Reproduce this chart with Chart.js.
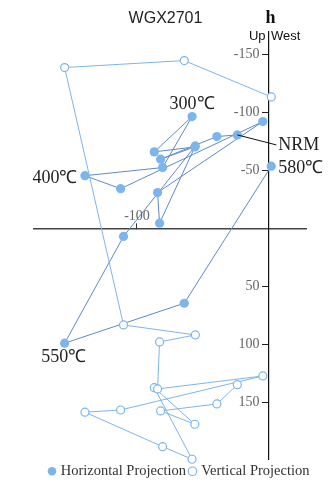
<!DOCTYPE html>
<html>
<head>
<meta charset="utf-8">
<title>WGX2701</title>
<script src="https://cdn.jsdelivr.net/npm/chart.js"></script>
<style>
  html, body { margin: 0; padding: 0; background: #fff; }
  #c { display: block; }
</style>
</head>
<body>
<canvas id="c" width="331" height="482"></canvas>
<script>
// Demagnetization steps (orthogonal projection, units of the plot axes)
const stepLabels = ['NRM', '', '', '', '', '300℃', '', '400℃', '', '', '', '', '', '', '550℃', '', '580℃'];
// shared horizontal coordinate of each step
const xValues = [-24.0, -39.5, -82.1, -56.2, -86.9, -58.3, -80.6, -139.4, -112.4, -4.7, -84.4, -82.9, -55.8, -110.2, -154.8, -64.2, 1.7];
// horizontal-plane component
const horizontalValues = [-80.4, -79.0, -59.5, -70.1, -65.8, -96.2, -52.3, -45.3, -34.1, -91.9, -30.8, -4.4, -70.9, 7.0, 98.9, 64.5, -53.5];
// vertical-plane component
const verticalValues = [134.6, 151.2, 157.2, 168.7, 137.2, 198.8, 188.0, 158.3, 156.4, 127.1, 138.3, 97.8, 91.8, 83.2, -138.4, -144.4, -113.1];

const xTickValues = [-100];
const yTickValues = [-150, -100, -50, 50, 100, 150];
const xRange = [-178, 28];
const yRange = [-169, 198.6];

const chartTitle = 'WGX2701';

// where each temperature label sits relative to its point
const labelPlacement = {
  'NRM':  { dx: 41, dy: 15.5, align: 'left', leader: [39, 10] },
  '300℃': { dx: 0, dy: -7.5, align: 'center' },
  '400℃': { dx: -7.5, dy: 7.5, align: 'right' },
  '550℃': { dx: -1, dy: 18.5, align: 'center' },
  '580℃': { dx: 7, dy: 6.5, align: 'left' }
};

const SERIF = '"Liberation Serif", "Times New Roman", Times, serif';
const SANS = '"Liberation Sans", Arial, Helvetica, sans-serif';

const horizontalPoints = xValues.map((x, i) => ({ x, y: horizontalValues[i] }));
const verticalPoints = xValues.map((x, i) => ({ x, y: verticalValues[i] }));

const decorations = {
  id: 'decorations',
  afterDatasetsDraw(chart) {
    const ctx = chart.ctx;
    const xs = chart.scales.x, ys = chart.scales.y;
    const axisX = xs.getPixelForValue(0);
    const axisY = ys.getPixelForValue(0);
    ctx.save();

    // title
    ctx.fillStyle = '#222';
    ctx.font = '16px ' + SANS;
    ctx.textAlign = 'center';
    ctx.textBaseline = 'alphabetic';
    ctx.fillText(chartTitle, chart.width / 2, 23.3);

    // axis tick labels
    ctx.font = '14px ' + SERIF;
    ctx.fillStyle = '#666';
    ctx.textAlign = 'right';
    ctx.textBaseline = 'middle';
    ys.ticks.forEach(t => ctx.fillText(String(t.value), axisX - 9.5, ys.getPixelForValue(t.value)));
    ctx.textAlign = 'center';
    ctx.textBaseline = 'alphabetic';
    xs.ticks.forEach(t => ctx.fillText(String(t.value), xs.getPixelForValue(t.value), axisY - 8.5));

    // axis captions at the top of the vertical axis
    ctx.fillStyle = '#111';
    ctx.font = 'bold 18px ' + SERIF;
    ctx.textAlign = 'center';
    ctx.fillText('h', axisX + 1.5, 23);
    ctx.font = '13px ' + SANS;
    ctx.textAlign = 'right';
    ctx.fillText('Up', axisX - 3.5, 40);
    ctx.textAlign = 'left';
    ctx.fillText('West', axisX + 2, 40);

    // step labels next to the horizontal-projection points
    ctx.font = '18px ' + SERIF;
    ctx.fillStyle = '#222';
    stepLabels.forEach((label, i) => {
      const place = labelPlacement[label];
      if (!label || !place) return;
      const px = xs.getPixelForValue(xValues[i]);
      const py = ys.getPixelForValue(horizontalValues[i]);
      if (place.leader) {
        ctx.beginPath();
        ctx.strokeStyle = '#111';
        ctx.lineWidth = 1;
        ctx.moveTo(px, py);
        ctx.lineTo(px + place.leader[0], py + place.leader[1]);
        ctx.stroke();
      }
      ctx.textAlign = place.align;
      ctx.textBaseline = 'alphabetic';
      ctx.fillText(label, px + place.dx, py + place.dy);
    });
    ctx.restore();
  }
};

new Chart(document.getElementById('c'), {
  type: 'scatter',
  data: {
    datasets: [
      {
        label: 'Horizontal Projection',
        data: horizontalPoints,
        showLine: true,
        borderColor: '#6189c4',
        borderWidth: 1,
        pointRadius: 4.6,
        pointBorderWidth: 0,
        pointBackgroundColor: '#7cb5ec',
        pointBorderColor: '#7cb5ec',
        order: 2,
        clip: false
      },
      {
        label: 'Vertical Projection',
        data: verticalPoints,
        showLine: true,
        borderColor: '#7cb5ec',
        borderWidth: 1,
        pointRadius: 4,
        pointBorderWidth: 1.2,
        pointBackgroundColor: '#ffffff',
        pointBorderColor: '#7cb5ec',
        order: 1,
        clip: false
      }
    ]
  },
  options: {
    responsive: false,
    animation: false,
    devicePixelRatio: 1,
    layout: { padding: { left: 34, right: 5, top: 32, bottom: 0 } },
    plugins: {
      title: { display: false },
      legend: {
        position: 'bottom',
        maxHeight: 23,
        labels: {
          usePointStyle: true,
          pointStyle: 'circle',
          boxWidth: 3,
          boxHeight: 6,
          padding: 5,
          color: '#333',
          font: { family: SERIF, size: 14.5 },
          sort: (a, b) => a.datasetIndex - b.datasetIndex
        }
      },
      tooltip: { enabled: false }
    },
    scales: {
      x: {
        type: 'linear',
        position: { y: 0 },
        min: xRange[0],
        max: xRange[1],
        afterBuildTicks: axis => { axis.ticks = xTickValues.map(v => ({ value: v })); },
        grid: { display: true, drawOnChartArea: false, drawTicks: true, tickLength: -6, color: '#333', lineWidth: 1 },
        border: { display: true, color: '#444', width: 1.4 },
        ticks: { display: false }
      },
      y: {
        type: 'linear',
        position: { x: 0 },
        reverse: true,
        min: yRange[0],
        max: yRange[1],
        afterBuildTicks: axis => { axis.ticks = yTickValues.map(v => ({ value: v })); },
        grid: { display: true, drawOnChartArea: false, drawTicks: true, tickLength: 6, color: '#222', lineWidth: 1 },
        border: { display: true, color: '#111', width: 1.2 },
        ticks: { display: false }
      },
      // blank margin on the right of the plot area
      margin: {
        type: 'linear',
        axis: 'y',
        position: 'right',
        grid: { display: false, drawTicks: false },
        border: { display: false },
        ticks: { display: false },
        afterFit: axis => { axis.width = 20; }
      }
    }
  },
  plugins: [decorations]
});
</script>
</body>
</html>
